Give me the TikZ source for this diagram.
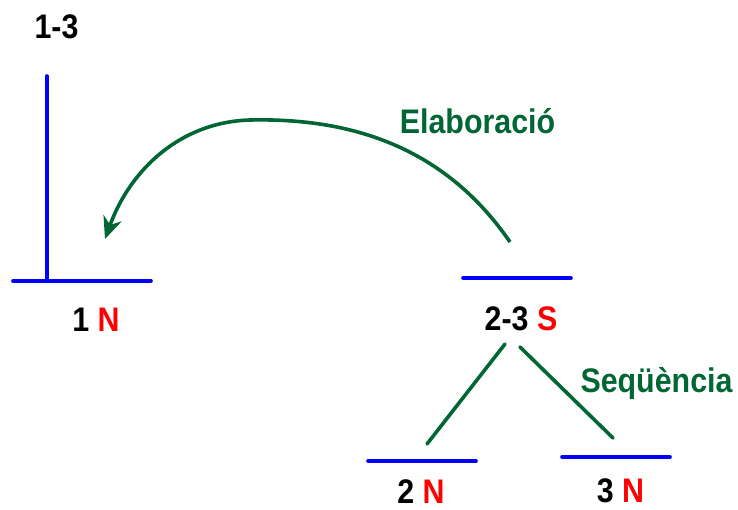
\documentclass[tikz,border=0pt]{standalone}
\usepackage{fontspec}
\setmainfont{Liberation Sans}
\usetikzlibrary{arrows.meta}
\definecolor{bbl}{RGB}{0,0,255}
\definecolor{grn}{RGB}{0,102,51}
\definecolor{rd}{RGB}{255,0,0}
\newcommand\talltxt[1]{\scalebox{0.98}[1.1]{#1}}
\begin{document}
\begin{tikzpicture}[x=1pt,y=-1pt,
  bar/.style={draw=bbl,line width=3.6pt,line cap=round},
  rel/.style={draw=grn,line width=3.6pt,line cap=round},
  lbl/.style={inner sep=0pt,anchor=base,font=\bfseries\fontsize{31}{31}\selectfont},
  rlbl/.style={lbl,text=grn}]
\useasboundingbox (0,0) rectangle (738,509);
% top span
\node[lbl] (t13) at (56.5,38) {\talltxt{1-3}};
\coordinate (v1top) at (47,76);
\coordinate (v1bot) at (47,281);
\coordinate (b1l) at (13,281);
\coordinate (b1r) at (151,281);
\draw[bar] (v1top) -- (v1bot);
\draw[bar] (b1l) -- (b1r);
\node[lbl] (n1) at (96,331) {\talltxt{1 \textcolor{rd}{N}}};
% 2-3
\coordinate (b23l) at (463,278);
\coordinate (b23r) at (571,278);
\draw[bar] (b23l) -- (b23r);
\node[lbl] (n23) at (521,330) {\talltxt{2-3 \textcolor{rd}{S}}};
% 2 and 3
\coordinate (b2l) at (368,461);
\coordinate (b2r) at (476,461);
\draw[bar] (b2l) -- (b2r);
\coordinate (b3l) at (562,457);
\coordinate (b3r) at (670,457);
\draw[bar] (b3l) -- (b3r);
\node[lbl] (n2) at (421,503) {\talltxt{2 \textcolor{rd}{N}}};
\node[lbl] (n3) at (620.5,502) {\talltxt{3 \textcolor{rd}{N}}};
% sequence lines
\coordinate (s1a) at (505,344);
\coordinate (s1b) at (427,444);
\coordinate (s2a) at (520,347);
\coordinate (s2b) at (613,438);
\draw[rel] (s1a) -- (s1b);
\draw[rel] (s2a) -- (s2b);
\node[rlbl] (seq) at (656.5,392) {\talltxt{Seqüència}};
% elaboration arrow
\coordinate (ea) at (510,242);
\coordinate (em) at (250,120);
\coordinate (eb) at (105,239);
\draw[rel,line cap=butt,-{Stealth[length=22pt,width=19pt,inset=7pt]}] (ea) .. controls (440,140) and (340,118) .. (em) .. controls (180,122) and (130,170) .. (eb);
\node[rlbl] (elab) at (477.5,133) {\talltxt{Elaboració}};
\end{tikzpicture}
\end{document}
